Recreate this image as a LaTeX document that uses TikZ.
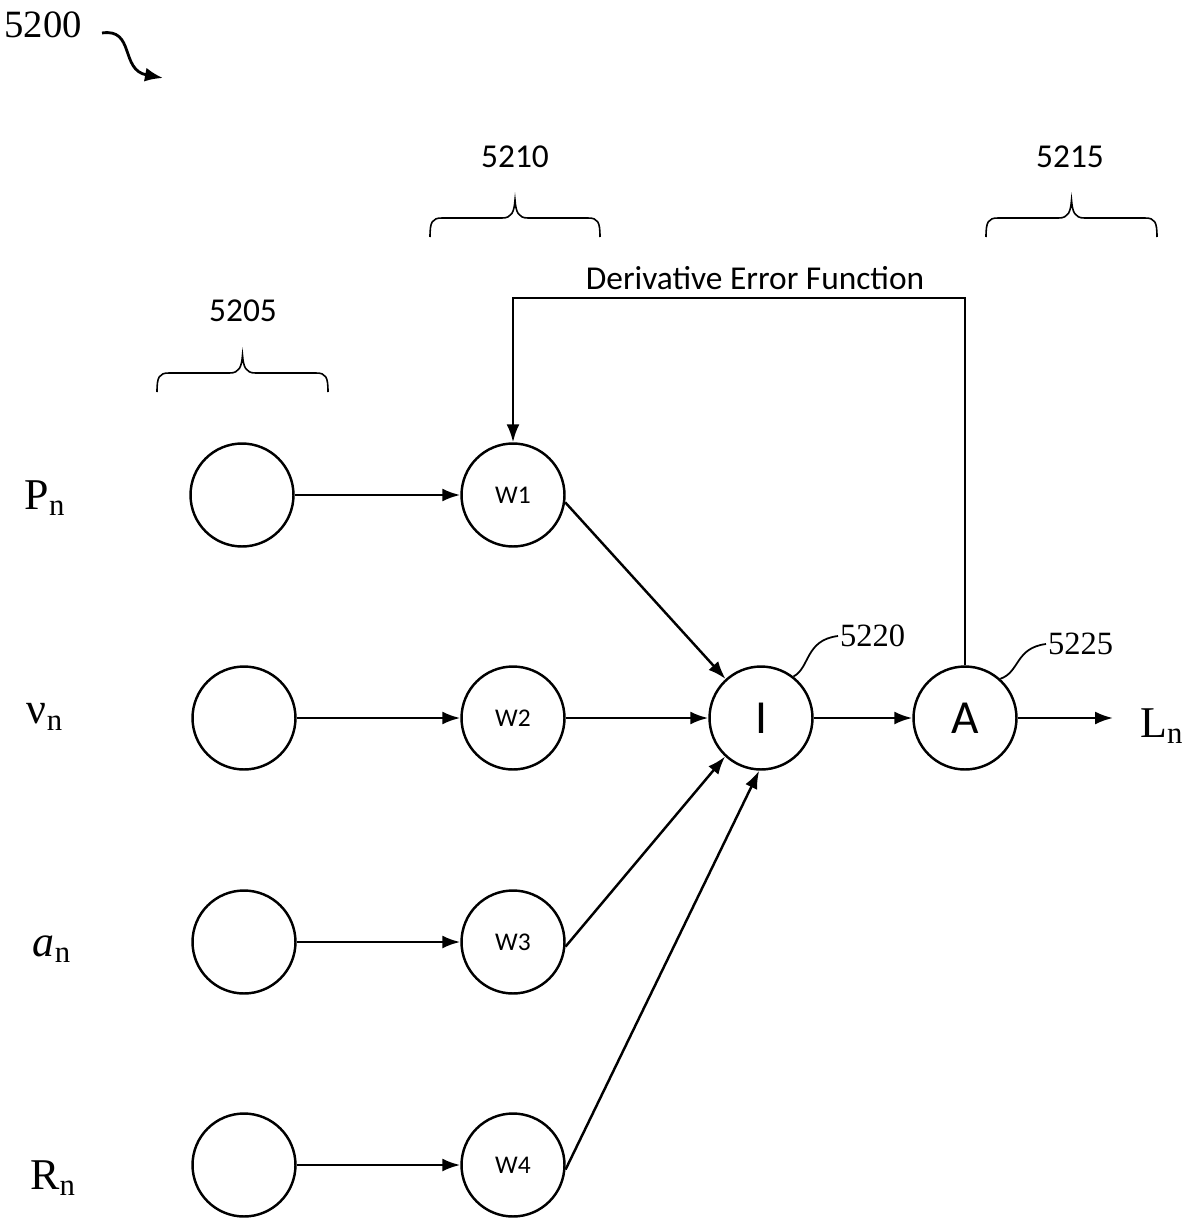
\documentclass[tikz,border=0pt]{standalone}
\usepackage{fontspec}
\setmainfont{Liberation Serif}
\newfontfamily\calib{Carlito}
\usepackage{tikz}
\usetikzlibrary{positioning,arrows.meta,calc}

% flat brace over a layer: left x, right x, bottom y
\newcommand{\layerbrace}[3]{%
  \draw[grp] (#1,#3) .. controls (#1,{#3-15}) and ({#1+2},{#3-19}) .. ({#1+12},{#3-19})
    -- ({(#1+#2)/2-13},{#3-19}) .. controls ({(#1+#2)/2-3},{#3-19}) and ({(#1+#2)/2-1},{#3-25}) .. ({(#1+#2)/2},{#3-37})
    .. controls ({(#1+#2)/2+1},{#3-25}) and ({(#1+#2)/2+3},{#3-19}) .. ({(#1+#2)/2+13},{#3-19})
    -- ({#2-12},{#3-19}) .. controls ({#2-2},{#3-19}) and (#2,{#3-15}) .. (#2,#3);}

\begin{document}
\begin{tikzpicture}[
  x=0.02cm,y=-0.02cm,
  neuron/.style={circle,draw,line width=1.4pt,minimum size=2.06cm,inner sep=0pt,font=\calib\fontsize{14.5}{16}\selectfont},
  big/.style={font=\calib\fontsize{27}{30}\selectfont},
  arr/.style={-{Latex[length=0.36cm,width=0.26cm]},line width=1.4pt},
  grp/.style={line width=0.9pt},
  num/.style={font=\calib\fontsize{19}{22}\selectfont},
  ref/.style={font=\fontsize{18.5}{20}\selectfont,inner sep=1pt},
  var/.style={font=\fontsize{25}{28}\selectfont},
]
\useasboundingbox (0,0) rectangle (1183,1220);

% Figure number
\node[font=\fontsize{22}{24}\selectfont,inner sep=0pt] (l5200) at (43,25) {5200};
\draw[-{Latex[length=0.36cm,width=0.28cm]},line width=1.6pt] (102,33) .. controls (135,28) and (120,70) .. (163,78);

% Input layer
\node[neuron] (in1) at (242,495) {};
\node[neuron] (in2) at (244,718) {};
\node[neuron] (in3) at (244,942) {};
\node[neuron] (in4) at (244,1165) {};

% Weights
\node[neuron] (w1) at (513,495) {W1};
\node[neuron] (w2) at (513,718) {W2};
\node[neuron] (w3) at (513,942) {W3};
\node[neuron] (w4) at (513,1165) {W4};

% Integration and activation
\node[neuron,big] (I) at (761,718) {I};
\node[neuron,big] (A) at (965,718) {A};
\coordinate (out) at (1113,718);

% Input labels
\node[var] (pn) at (45,498) {P\textsubscript{n}};
\node[var] (vn) at (45,717) {ν\textsubscript{n}};
\node[var] (an) at (52,949) {\textit{a}\textsubscript{n}};
\node[var] (rn) at (53,1178) {R\textsubscript{n}};
\node[var,anchor=west] (ln) at (1134,726) {L\textsubscript{n}};

% Connections
\draw[arr] (in1) -- (w1);
\draw[arr] (in2) -- (w2);
\draw[arr] (in3) -- (w3);
\draw[arr] (in4) -- (w4);
\draw[arr] (w1.-8) -- (I);
\draw[arr] (w2) -- (I);
\draw[arr] (w3.-5) -- (I.-133);
\draw[arr] (w4.-5) -- (I.-92);
\draw[arr] (I) -- (A);
\draw[arr] (A) -- (out);

% Feedback loop
\coordinate (fb) at (965,298);
\draw[arr] (A.north) -- (fb) -| (w1.north);
\node[num,above=1pt] (dlabel) at (755,298) {Derivative Error Function};

% Layer braces
\layerbrace{157}{328}{392}
\node[num] (g5205) at (243,311) {5205};
\layerbrace{430}{600}{237}
\node[num] (g5210) at (515,157) {5210};
\layerbrace{986}{1157}{237}
\node[num] (g5215) at (1070,157) {5215};

% Reference numerals
\node[ref,anchor=west] (r5220) at (838,636) {5220};
\draw[line width=1pt] (I.52) .. controls (810,668) and (805,640) .. (r5220.west);
\node[ref,anchor=west] (r5225) at (1046,644) {5225};
\draw[line width=1pt] (A.48) .. controls (1020,672) and (1015,648) .. (r5225.west);

\end{tikzpicture}
\end{document}
